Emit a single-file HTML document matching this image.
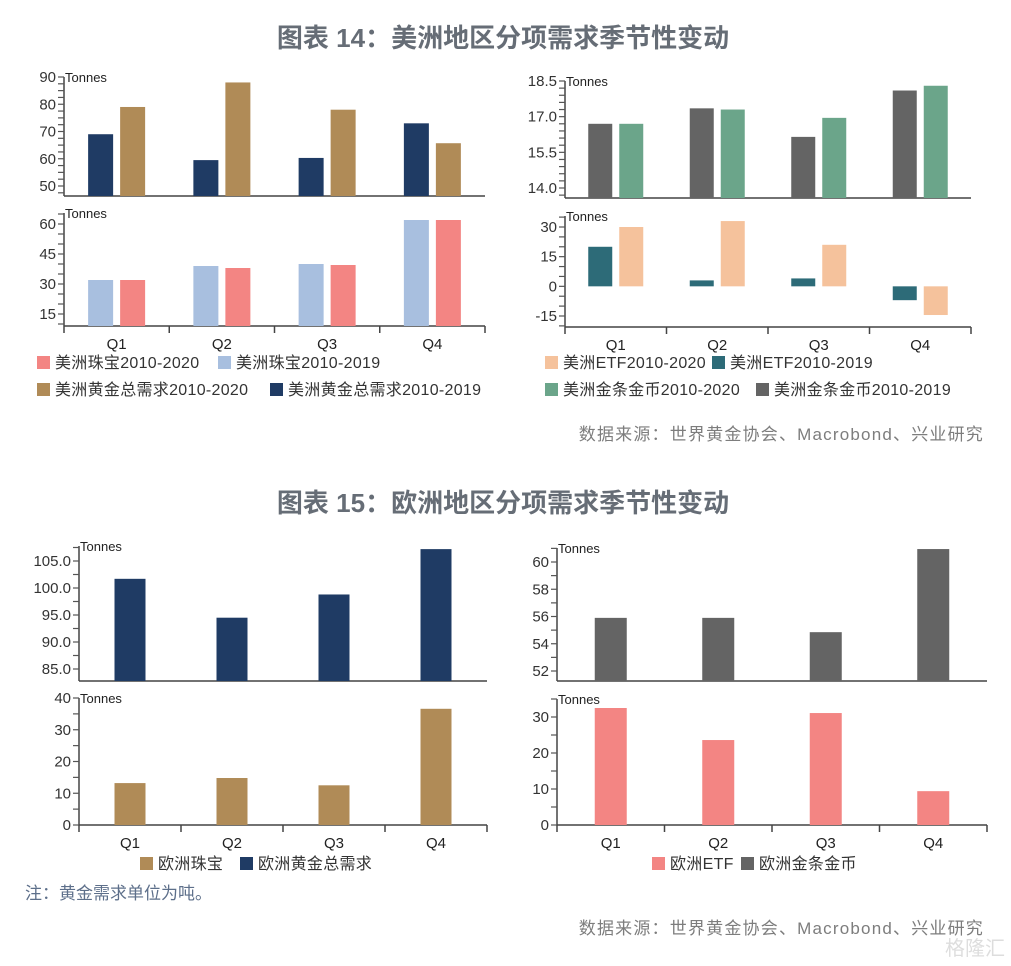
<!DOCTYPE html>
<html><head><meta charset="utf-8">
<style>
html,body{margin:0;padding:0;background:#fff;}
body{width:1011px;height:961px;overflow:hidden;position:relative;font-family:"Liberation Sans","Noto Sans CJK SC",sans-serif;}
svg text{font-family:"Liberation Sans","Noto Sans CJK SC",sans-serif;}
</style></head>
<body>
<svg id="chart" width="1011" height="961" viewBox="0 0 1011 961" xmlns="http://www.w3.org/2000/svg">
<text x="503" y="47" text-anchor="middle" font-size="26" fill="#666d76" font-weight="bold">图表 14：美洲地区分项需求季节性变动</text>
<text x="503" y="512" text-anchor="middle" font-size="26" fill="#666d76" font-weight="bold">图表 15：欧洲地区分项需求季节性变动</text>
<text x="984" y="440" text-anchor="end" font-size="17" letter-spacing="1.2" fill="#7d7d7d">数据来源：世界黄金协会、Macrobond、兴业研究</text>
<text x="984" y="934" text-anchor="end" font-size="17" letter-spacing="1.2" fill="#7d7d7d">数据来源：世界黄金协会、Macrobond、兴业研究</text>
<text x="25" y="899" font-size="17" fill="#5d6f8a">注：黄金需求单位为吨。</text>
<text x="1005" y="955" text-anchor="end" font-size="20" fill="#d0d0d0" opacity="0.7">格隆汇</text>
<g id="plots"></g>
</svg>
<script>
const categories = ["Q1","Q2","Q3","Q4"];
// Americas total demand
const usTotal2019 = [69, 59.5, 60.3, 73];
const usTotal2020 = [79, 88, 78, 65.7];
// Americas jewellery
const usJewel2019 = [32, 39, 40, 62];
const usJewel2020 = [32, 38, 39.5, 62];
// Americas bar & coin
const usBar2019 = [16.7, 17.35, 16.15, 18.1];
const usBar2020 = [16.7, 17.3, 16.95, 18.3];
// Americas ETF
const usEtf2019 = [20, 3, 4, -7];
const usEtf2020 = [30, 33, 21, -14.5];
// Europe
const euTotal = [101.7, 94.5, 98.8, 107.2];
const euJewel = [13.2, 14.8, 12.5, 36.6];
const euBar = [55.9, 55.9, 54.85, 60.95];
const euEtf = [32.5, 23.6, 31.1, 9.4];
// tick labels
const ticksUsTotal = ["90","80","70","60","50"];
const ticksUsJewel = ["60","45","30","15"];
const ticksUsBar = ["18.5","17.0","15.5","14.0"];
const ticksUsEtf = ["30","15","0","-15"];
const ticksEuTotal = ["105.0","100.0","95.0","90.0","85.0"];
const ticksEuJewel = ["40","30","20","10","0"];
const ticksEuBar = ["60","58","56","54","52"];
const ticksEuEtf = ["30","20","10","0"];

const NS="http://www.w3.org/2000/svg";
const root=document.getElementById('plots');
function mk(tag,attrs,parent){const e=document.createElementNS(NS,tag);for(const k in attrs)e.setAttribute(k,attrs[k]);(parent||root).appendChild(e);return e;}

function panel(p){
  const g=mk('g',{});
  
  
  const scale=(p.y2-p.y1)/(p.v2-p.v1);
  const Y=v=>p.y1+(v-p.v1)*scale;
  const vBase=p.v1+(p.base-p.y1)/scale;
  const zeroV=p.zero!==undefined?p.zero:vBase;
  const cw=(p.x1-p.x0)/categories.length;
  const ax=mk('line',{x1:p.x0,y1:p.top,x2:p.x0,y2:p.base,stroke:'#444','stroke-width':1.5},g);
  
  
  const bx=mk('line',{x1:p.x0,y1:p.base,x2:p.x1,y2:p.base,stroke:'#444','stroke-width':1.5},g);
  
  
  const vTop=p.v1+(p.top-p.y1)/scale;
  const lo=Math.min(vBase,vTop),hi=Math.max(vBase,vTop);
  let start=Math.ceil((lo-p.tickRef)/p.minor)*p.minor+p.tickRef;
  for(let v=start;v<=hi+1e-9;v+=p.minor){
    const t=mk('line',{x1:p.x0-6,y1:Y(v),x2:p.x0,y2:Y(v),stroke:'#555','stroke-width':1.2},g);
    
    
  }
  p.ticks.forEach(s=>{
    const v=parseFloat(s);
    const t=mk('text',{x:p.x0-8,y:Y(v)+5,'text-anchor':'end','font-size':15,fill:'#333'},g);
    t.textContent=s;
    
    
  });
  const tn=mk('text',{x:p.x0+1,y:p.top+5,'font-size':13,fill:'#222'},g);
  tn.textContent='Tonnes';
  
  
  const n=p.series.length;
  const groupW=n*p.bw+(n-1)*p.gap;
  p.series.forEach((s,si)=>{
    s.data.forEach((v,i)=>{
      const cx=p.x0+cw*(i+0.5);
      const bx0=cx-groupW/2+si*(p.bw+p.gap);
      const ya=Y(v),yb=Y(zeroV);
      const r=mk('rect',{x:bx0,y:Math.min(ya,yb),width:p.bw,height:Math.abs(yb-ya),fill:s.color},g);
      
      
    });
  });
  if(p.xlabels){
    for(let i=0;i<=categories.length;i++){
      const t=mk('line',{x1:p.x0+cw*i,y1:p.base,x2:p.x0+cw*i,y2:p.base+7,stroke:'#444','stroke-width':1.5},g);
      
      
    }
    categories.forEach((c,i)=>{
      const t=mk('text',{x:p.x0+cw*(i+0.5),y:p.base+23,'text-anchor':'middle','font-size':15,fill:'#222','font-family':'Liberation Serif, serif'},g);
      t.textContent=c;
      
      
    });
  }
}
const C={navy:'#1f3b64',gold:'#b08b57',lblue:'#a8bfdf',pink:'#f38583',peach:'#f5c29c',teal:'#2d6b78',green:'#6ba58a',grey:'#646464'};

panel({name:'us-total-demand-panel',x0:64,x1:485,top:77,base:196,v1:90,y1:77,v2:50,y2:186,ticks:ticksUsTotal,minor:2.5,tickRef:50,bw:25,gap:7,
  series:[{key:'us-total-2019',data:usTotal2019,color:C.navy},{key:'us-total-2020',data:usTotal2020,color:C.gold}]});
panel({name:'us-jewellery-panel',x0:64,x1:485,top:213,base:326,v1:60,y1:224,v2:15,y2:314,ticks:ticksUsJewel,minor:5,tickRef:15,bw:25,gap:7,xlabels:true,
  series:[{key:'us-jewel-2019',data:usJewel2019,color:C.lblue},{key:'us-jewel-2020',data:usJewel2020,color:C.pink}]});
panel({name:'us-bar-coin-panel',x0:565,x1:971,top:81,base:198,v1:18.5,y1:81,v2:14,y2:188,ticks:ticksUsBar,minor:0.3,tickRef:14,bw:24,gap:7,
  series:[{key:'us-bar-2019',data:usBar2019,color:C.grey},{key:'us-bar-2020',data:usBar2020,color:C.green}]});
panel({name:'us-etf-panel',x0:565,x1:971,top:216,base:327,v1:30,y1:227,v2:-15,y2:316,zero:0,ticks:ticksUsEtf,minor:5,tickRef:0,bw:24,gap:7,xlabels:true,
  series:[{key:'us-etf-2019',data:usEtf2019,color:C.teal},{key:'us-etf-2020',data:usEtf2020,color:C.peach}]});
panel({name:'eu-total-demand-panel',x0:79,x1:487,top:546,base:681,v1:105,y1:561,v2:85,y2:669,ticks:ticksEuTotal,minor:2.5,tickRef:85,bw:31,gap:0,
  series:[{key:'eu-total',data:euTotal,color:C.navy}]});
panel({name:'eu-jewellery-panel',x0:79,x1:487,top:698,base:825,v1:40,y1:698,v2:0,y2:825,ticks:ticksEuJewel,minor:5,tickRef:0,bw:31,gap:0,xlabels:true,
  series:[{key:'eu-jewel',data:euJewel,color:C.gold}]});
panel({name:'eu-bar-coin-panel',x0:557,x1:987,top:548,base:681,v1:60,y1:562,v2:52,y2:671,ticks:ticksEuBar,minor:1,tickRef:52,bw:32,gap:0,
  series:[{key:'eu-bar',data:euBar,color:C.grey}]});
panel({name:'eu-etf-panel',x0:557,x1:987,top:699,base:825,v1:30,y1:717,v2:0,y2:825,ticks:ticksEuEtf,minor:5,tickRef:0,bw:32,gap:0,xlabels:true,
  series:[{key:'eu-etf',data:euEtf,color:C.pink}]});

const legends=[
  [37,362,C.pink,'美洲珠宝2010-2020'],[218,362,C.lblue,'美洲珠宝2010-2019'],
  [37,389,C.gold,'美洲黄金总需求2010-2020'],[270,389,C.navy,'美洲黄金总需求2010-2019'],
  [545,362,C.peach,'美洲ETF2010-2020'],[712,362,C.teal,'美洲ETF2010-2019'],
  [545,389,C.green,'美洲金条金币2010-2020'],[756,389,C.grey,'美洲金条金币2010-2019'],
  [140,863,C.gold,'欧洲珠宝'],[240,863,C.navy,'欧洲黄金总需求'],
  [652,863,C.pink,'欧洲ETF'],[741,863,C.grey,'欧洲金条金币']
];
legends.forEach(l=>{
  const g=mk('g',{});
  
  
  mk('rect',{x:l[0],y:l[1]-6,width:13,height:13,fill:l[2]},g);
  const t=mk('text',{x:l[0]+18,y:l[1]+6,'font-size':16,'letter-spacing':0.3,fill:'#333'},g);
  t.textContent=l[3];
});
</script>
</body></html>
